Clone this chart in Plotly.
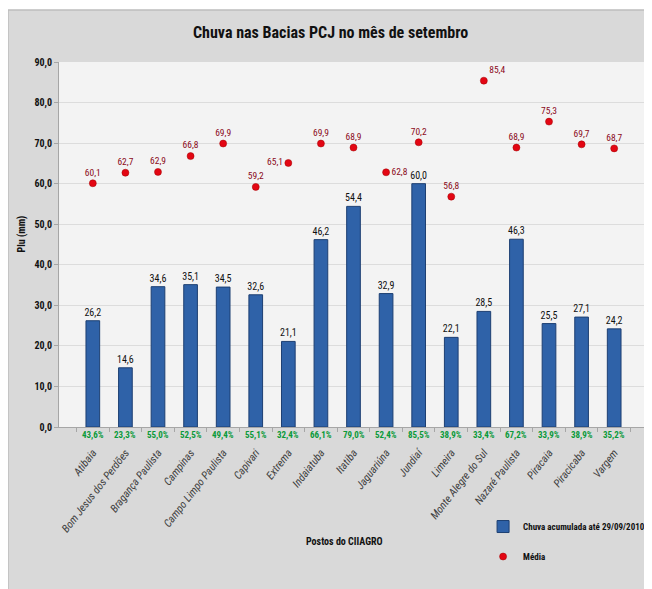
import plotly.graph_objects as go

postos = ["Atibaia", "Bom Jesus dos Perdões", "Bragança Paulista", "Campinas",
          "Campo Limpo Paulista", "Capivari", "Extrema", "Indaiatuba", "Itatiba",
          "Jaguariúna", "Jundiaí", "Limeira", "Monte Alegre do Sul", "Nazaré Paulista",
          "Piracaia", "Piracicaba", "Vargem"]
chuva = [26.2, 14.6, 34.6, 35.1, 34.5, 32.6, 21.1, 46.2, 54.4, 32.9, 60.0, 22.1,
         28.5, 46.3, 25.5, 27.1, 24.2]
media = [60.1, 62.7, 62.9, 66.8, 69.9, 59.2, 65.1, 69.9, 68.9, 62.8, 70.2, 56.8,
         85.4, 68.9, 75.3, 69.7, 68.7]
percent = ["43,6%", "23,3%", "55,0%", "52,5%", "49,4%", "55,1%", "32,4%", "66,1%",
           "79,0%", "52,4%", "85,5%", "38,9%", "33,4%", "67,2%", "33,9%", "38,9%", "35,2%"]
media_pos = ["top center"] * len(postos)
media_pos[6] = "middle left"
media_pos[9] = "middle right"
media_pos[12] = "top right"

FONT = "Liberation Sans Narrow, Arial Narrow, Roboto Condensed, Roboto, sans-serif"

fig = go.Figure()
fig.add_trace(go.Bar(
    x=postos, y=chuva, name="Chuva acumulada até 29/09/2010",
    marker=dict(color="#2f62a8", line=dict(color="#1d3f72", width=1)),
    width=0.42,
    text=[f"{v:.1f}".replace(".", ",") for v in chuva], textposition="outside",
    constraintext="none",
    textfont=dict(family=FONT, size=10, color="#111111"),
    cliponaxis=False, legendgroup="a",
))
fig.add_trace(go.Scatter(
    x=postos, y=media, name="Média", mode="markers+text",
    marker=dict(color="#e30613", size=7, line=dict(color="#a00000", width=0.5)),
    text=[f"{v:.1f}".replace(".", ",") for v in media], textposition=media_pos,
    textfont=dict(family=FONT, size=9.5, color="#8b0a1a"),
    cliponaxis=False, legendgroup="b",
))

shapes = [
    dict(type="rect", xref="paper", yref="paper", x0=-0.0866, x1=1.02, y0=-0.5, y1=1.1425,
         fillcolor="#d9d9d9", line=dict(color="#bdbdbd", width=1.5), layer="below"),
    dict(type="rect", xref="paper", yref="paper", x0=0, x1=1, y0=0, y1=1,
         fillcolor="#f3f3f3", line=dict(width=0), layer="below"),
]

annotations = [
    dict(text="<b>Chuva nas Bacias PCJ no mês de setembro</b>", xref="paper", yref="paper",
         x=0.461, y=1.0795, xanchor="center", yanchor="middle", showarrow=False,
         font=dict(family=FONT, size=16, color="#111111")),
    dict(text="<b>Postos do CIIAGRO</b>", xref="paper", yref="paper",
         x=0.485, y=-0.315, xanchor="center", yanchor="middle", showarrow=False,
         font=dict(family=FONT, size=10, color="#111111")),
    dict(text="<b>Plu (mm)</b>", xref="paper", yref="paper",
         x=-0.063, y=0.53, xanchor="center", yanchor="middle", showarrow=False,
         textangle=-90, font=dict(family=FONT, size=10, color="#111111")),
]
for p, t in zip(postos, percent):
    annotations.append(dict(text=f"<b>{t}</b>", x=p, xref="x", yref="paper", y=-0.004,
                            yanchor="top", showarrow=False,
                            font=dict(family=FONT, size=9, color="#0a9a3a")))

fig.update_layout(
    width=644, height=581,
    margin=dict(l=51, r=4, t=54, b=162, autoexpand=False),
    paper_bgcolor="white", plot_bgcolor="rgba(0,0,0,0)",
    separators=",.",
    font=dict(family=FONT, color="#222222"),
    shapes=shapes, annotations=annotations,
    showlegend=True,
    legend=dict(xref="container", yref="container", x=0.997, y=0.1325,
                xanchor="right", yanchor="top",
                bgcolor="rgba(0,0,0,0)", tracegroupgap=11, itemwidth=30,
                font=dict(family=FONT, size=9, color="#111111", weight="bold"),
                traceorder="grouped"),
    xaxis=dict(tickangle=-52, tickfont=dict(family=FONT, size=11, color="#404040"),
               ticks="outside", tickson="boundaries", ticklen=4, tickcolor="#a6a6a6",
               ticklabelstandoff=14,
               showline=True, linecolor="#a6a6a6", showgrid=False),
    yaxis=dict(range=[0, 90], dtick=10, tickformat=".1f",
               tickfont=dict(family=FONT, size=10, color="#111111", weight="bold"),
               ticks="outside", ticklen=4, tickcolor="#a6a6a6",
               showline=True, linecolor="#a6a6a6",
               gridcolor="#dcdcdc", gridwidth=1, zeroline=False),
)
fig.update_xaxes(tickprefix="<i>", ticksuffix="</i>")

fig.write_html("out.html")
